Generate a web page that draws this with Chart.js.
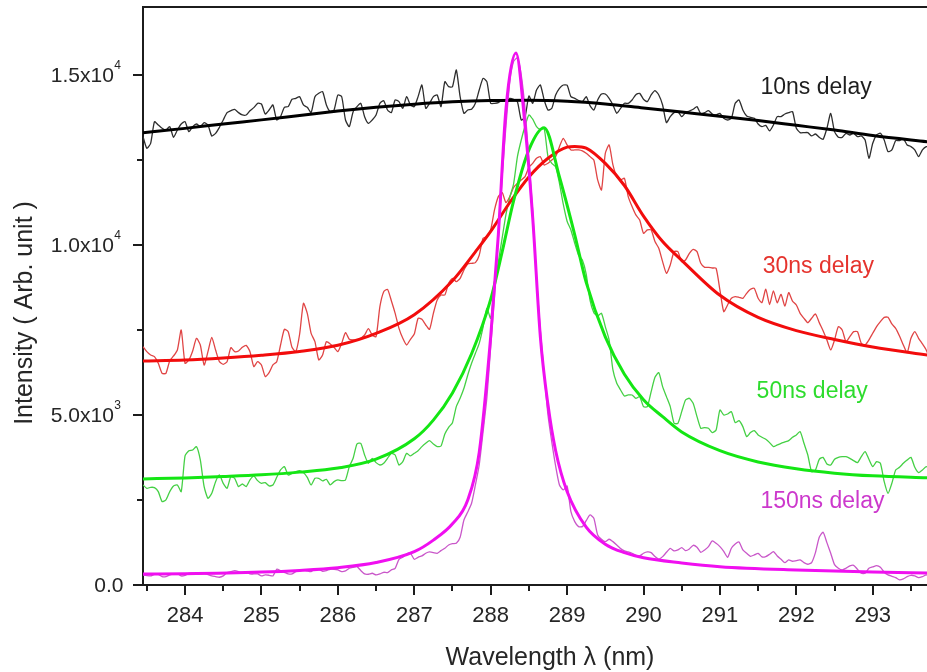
<!DOCTYPE html>
<html>
<head>
<meta charset="utf-8">
<title>Emission line broadening vs delay</title>
<script src="https://cdn.jsdelivr.net/npm/chart.js@4.4.1/dist/chart.umd.min.js"></script>
<style>
	html, body { margin: 0; padding: 0; background: #ffffff; }
	#wrap { width: 927px; height: 672px; }
</style>
</head>
<body>
<div id="wrap"><canvas id="chart" width="927" height="672"></canvas></div>
<script>
// wavelength grid of the measured spectra (nm), 0.05 nm step
const wavelengths = [
	283.45, 283.50, 283.55, 283.60, 283.65, 283.70, 283.75, 283.80, 283.85, 283.90,
	283.95, 284.00, 284.05, 284.10, 284.15, 284.20, 284.25, 284.30, 284.35, 284.40,
	284.45, 284.50, 284.55, 284.60, 284.65, 284.70, 284.75, 284.80, 284.85, 284.90,
	284.95, 285.00, 285.05, 285.10, 285.15, 285.20, 285.25, 285.30, 285.35, 285.40,
	285.45, 285.50, 285.55, 285.60, 285.65, 285.70, 285.75, 285.80, 285.85, 285.90,
	285.95, 286.00, 286.05, 286.10, 286.15, 286.20, 286.25, 286.30, 286.35, 286.40,
	286.45, 286.50, 286.55, 286.60, 286.65, 286.70, 286.75, 286.80, 286.85, 286.90,
	286.95, 287.00, 287.05, 287.10, 287.15, 287.20, 287.25, 287.30, 287.35, 287.40,
	287.45, 287.50, 287.55, 287.60, 287.65, 287.70, 287.75, 287.80, 287.85, 287.90,
	287.95, 288.00, 288.05, 288.10, 288.15, 288.20, 288.25, 288.30, 288.35, 288.40,
	288.45, 288.50, 288.55, 288.60, 288.65, 288.70, 288.75, 288.80, 288.85, 288.90,
	288.95, 289.00, 289.05, 289.10, 289.15, 289.20, 289.25, 289.30, 289.35, 289.40,
	289.45, 289.50, 289.55, 289.60, 289.65, 289.70, 289.75, 289.80, 289.85, 289.90,
	289.95, 290.00, 290.05, 290.10, 290.15, 290.20, 290.25, 290.30, 290.35, 290.40,
	290.45, 290.50, 290.55, 290.60, 290.65, 290.70, 290.75, 290.80, 290.85, 290.90,
	290.95, 291.00, 291.05, 291.10, 291.15, 291.20, 291.25, 291.30, 291.35, 291.40,
	291.45, 291.50, 291.55, 291.60, 291.65, 291.70, 291.75, 291.80, 291.85, 291.90,
	291.95, 292.00, 292.05, 292.10, 292.15, 292.20, 292.25, 292.30, 292.35, 292.40,
	292.45, 292.50, 292.55, 292.60, 292.65, 292.70, 292.75, 292.80, 292.85, 292.90,
	292.95, 293.00, 293.05, 293.10, 293.15, 293.20, 293.25, 293.30, 293.35, 293.40,
	293.45, 293.50, 293.55, 293.60, 293.65, 293.70, 293.75
];

// measured intensities
const spectrum10ns = [
	13187, 12844, 12991, 13628, 13530, 13432, 13383, 13481, 13167, 13383,
	13559, 13628, 13334, 13481, 13559, 13481, 13599, 13530, 13207, 13285,
	13461, 13677, 13893, 13951, 13991, 13893, 13824, 13824, 13951, 14040,
	14167, 14147, 13853, 13971, 14118, 13677, 13775, 14049, 14069, 14285,
	14314, 14363, 14118, 14049, 13893, 14363, 14461, 14510, 14118, 13922,
	13971, 14412, 14363, 13677, 13481, 13922, 14069, 14167, 13775, 13579,
	13677, 13824, 14167, 14245, 13971, 13893, 14265, 14216, 14020, 14363,
	14118, 14069, 14363, 14706, 14020, 14167, 14363, 14412, 14069, 14804,
	14657, 14657, 15147, 14363, 13873, 13971, 13991, 14167, 14559, 14902,
	14804, 14167, 14167, 14187, 14265, 14245, 14314, 14285, 14216, 13677,
	13775, 14383, 14167, 14559, 14706, 14265, 13971, 14020, 14412, 14608,
	14706, 14700, 14363, 14314, 14250, 14216, 14363, 14100, 13971, 14265,
	14441, 14441, 14314, 14118, 13873, 14020, 14167, 14167, 14265, 14422,
	14461, 14285, 14216, 14412, 14539, 14412, 14118, 13599, 13775, 13893,
	13922, 13775, 13893, 13942, 13991, 14069, 13853, 13893, 13951, 13853,
	13824, 13873, 13726, 13677, 13726, 14167, 14265, 13971, 13795, 13755,
	13726, 13559, 13481, 13520, 13354, 13530, 13775, 13775, 13853, 13893,
	13922, 13432, 13305, 13305, 13305, 13207, 13265, 13167, 13109, 13432,
	13873, 13334, 13167, 13167, 13285, 13236, 13285, 13187, 13207, 13089,
	12550, 12991, 13236, 13285, 13089, 12746, 12795, 13069, 13069, 13128,
	12942, 12893, 12795, 12599, 12795, 12893, 12893
];
const spectrum30ns = [
	7010, 6863, 6765, 6716, 6520, 6226, 6226, 6598, 6736, 6912,
	7500, 6520, 6618, 6883, 7255, 7059, 6471, 6863, 7284, 6912,
	6569, 6491, 6569, 6981, 6863, 6883, 6990, 7049, 6863, 6422,
	6569, 6471, 6128, 6246, 6471, 6569, 7059, 7520, 7451, 6990,
	6863, 7382, 8284, 7990, 7402, 7157, 6618, 6765, 7157, 7088,
	6990, 6863, 7108, 7422, 7226, 7206, 7206, 7255, 7353, 7539,
	7353, 7304, 8186, 8627, 8696, 8362, 7990, 7549, 7255, 7059,
	7226, 7382, 7843, 7814, 7647, 7520, 7990, 8382, 8529, 8529,
	8872, 9019, 8921, 9019, 9264, 9440, 9460, 9480, 9700, 10198,
	10247, 10443, 11031, 11423, 11541, 11247, 11423, 11697, 11815, 11913,
	12011, 12285, 12400, 12550, 12599, 12354, 12403, 12501, 12599, 12893,
	13138, 12942, 12795, 12795, 12795, 12766, 12697, 12599, 12501, 11913,
	11619, 12697, 12942, 12354, 12011, 11913, 11962, 11423, 11129, 10884,
	10737, 10345, 10443, 10443, 10100, 9904, 9510, 9167, 9412, 9804,
	9804, 9510, 9559, 9755, 9873, 9804, 9461, 9343, 9343, 9324,
	9314, 8677, 8040, 8236, 8432, 8481, 8461, 8432, 8579, 8697,
	8726, 8432, 8305, 8700, 8250, 8650, 8300, 8550, 8200, 8600,
	8350, 8236, 7991, 7844, 7717, 7844, 7971, 7717, 7481, 7207,
	6913, 7207, 7599, 7501, 7158, 7305, 7452, 7452, 7109, 7060,
	7207, 7403, 7599, 7746, 7873, 7873, 7677, 7550, 7325, 7060,
	6835, 7256, 7452, 7256, 7090, 6913, 6619
];
const spectrum50ns = [
	2942, 2844, 2873, 2864, 2746, 2452, 2501, 2746, 2913, 2942,
	2746, 3795, 3951, 3971, 4069, 3677, 2893, 2550, 2697, 3040,
	3236, 2991, 2844, 3187, 3138, 2893, 2971, 2893, 3089, 3207,
	3069, 2991, 3011, 2913, 2942, 3167, 3383, 3481, 3236, 3285,
	3334, 3363, 3305, 3167, 2942, 3138, 3138, 3060, 3109, 2942,
	3040, 3089, 3069, 3089, 3481, 3726, 4147, 4167, 3824, 3579,
	3726, 3599, 3530, 3579, 3726, 3873, 3824, 3530, 3628, 3873,
	3795, 3873, 3951, 4069, 4167, 4245, 4147, 4069, 4089, 4441,
	4637, 4775, 5246, 5491, 5785, 6177, 6520, 6814, 7108, 7578,
	8137, 7843, 8872, 9500, 10200, 10900, 11400, 11800, 12600, 13089,
	13500, 13824, 13700, 13481, 13400, 13432, 12599, 12403, 12300, 11815,
	11200, 10700, 10443, 10050, 9700, 9558, 9146, 8382, 8010, 7912,
	7990, 7598, 7206, 6324, 5932, 5736, 5560, 5589, 5589, 5491,
	5540, 5246, 5246, 5687, 6108, 6246, 5834, 5540, 5246, 4756,
	4756, 5099, 5442, 5491, 5344, 4952, 4609, 4629, 4609, 4482,
	4560, 5148, 5001, 5030, 5099, 4776, 4834, 4658, 4364, 4482,
	4540, 4413, 4345, 4286, 4188, 4070, 4119, 4168, 4207, 4247,
	4345, 4413, 4511, 4167, 3824, 3334, 3383, 3697, 3755, 3559,
	3530, 3697, 3755, 3775, 3775, 3726, 3657, 3599, 3775, 3922,
	3697, 3481, 3628, 3579, 3040, 2697, 2991, 3383, 3461, 3579,
	3677, 3755, 3461, 3304, 3383, 3481, 3432
];
const spectrum150ns = [
	296, 276, 267, 316, 316, 247, 247, 296, 325, 335,
	267, 286, 345, 345, 325, 335, 345, 306, 267, 247,
	228, 267, 365, 394, 424, 394, 345, 394, 325, 325,
	325, 267, 296, 286, 267, 463, 424, 374, 325, 325,
	394, 424, 443, 414, 394, 472, 463, 404, 424, 463,
	463, 443, 394, 414, 492, 521, 541, 424, 325, 316,
	345, 296, 325, 374, 365, 443, 492, 757, 815, 913,
	933, 757, 815, 855, 933, 972, 952, 933, 1011, 1080,
	1178, 1217, 1227, 1403, 1913, 2148, 2403, 2942, 3530, 4500,
	5500, 7000, 8500, 10200, 12000, 13500, 14800, 15400, 15500, 15000,
	14000, 12500, 11000, 9000, 7500, 6200, 5000, 4200, 3500, 2942,
	2795, 2912, 2158, 1864, 1717, 1717, 1893, 2060, 1962, 1472,
	1345, 1276, 1345, 1276, 1178, 1070, 1002, 972, 933, 874,
	855, 933, 972, 952, 835, 757, 835, 962, 1080, 1002,
	1031, 1100, 1011, 1060, 1168, 1109, 962, 1031, 1129, 1296,
	1227, 1129, 992, 815, 1080, 1207, 1266, 1031, 933, 845,
	884, 933, 825, 835, 904, 982, 855, 757, 659, 737,
	698, 717, 737, 659, 610, 659, 953, 1403, 1551, 1247,
	933, 600, 492, 443, 492, 561, 580, 463, 345, 345,
	492, 531, 570, 521, 374, 296, 257, 218, 149, 178,
	247, 286, 267, 218, 247, 296, 267
];

// fitted profiles, sampled at their own wavelengths
const fit10nsX = [283.45, 284, 284.5, 285, 285.5, 286, 286.5, 287, 287.5, 288, 288.5, 289, 289.5, 290, 290.5, 291, 291.5, 292, 292.5, 293, 293.75];
const fit10nsY = [13300, 13430, 13560, 13680, 13810, 13940, 14050, 14140, 14210, 14250, 14260, 14230, 14150, 14030, 13910, 13790, 13660, 13520, 13380, 13220, 13030];

const fit30nsX = [283.45, 284, 284.5, 285, 285.5, 286, 286.5, 287, 287.5, 287.8, 288, 288.25, 288.5, 288.75, 289, 289.1, 289.25, 289.5, 289.75, 290, 290.25, 290.5, 291, 291.5, 292, 292.5, 293, 293.75];
const fit30nsY = [6590, 6620, 6680, 6760, 6870, 7050, 7400, 7950, 8950, 9800, 10400, 11250, 12000, 12550, 12880, 12900, 12850, 12400, 11750, 10850, 10100, 9550, 8520, 7870, 7480, 7220, 7000, 6750];

const fit50nsX = [283.45, 284, 284.5, 285, 285.5, 286, 286.5, 287, 287.25, 287.5, 287.75, 288, 288.15, 288.3, 288.5, 288.7, 288.9, 289.1, 289.25, 289.5, 289.75, 290, 290.25, 290.5, 291, 291.5, 292, 292.5, 293, 293.75];
const fit50nsY = [3120, 3150, 3190, 3240, 3320, 3440, 3700, 4300, 4850, 5650, 6800, 8400, 9800, 11300, 12800, 13450, 12000, 10300, 8900, 7300, 6200, 5450, 4950, 4500, 3950, 3620, 3420, 3290, 3210, 3150];

const fit150nsX = [283.45, 284, 285, 285.5, 286, 286.5, 287, 287.25, 287.5, 287.7, 287.85, 288, 288.1, 288.2, 288.33, 288.45, 288.55, 288.65, 288.75, 288.85, 289, 289.25, 289.5, 289.75, 290, 290.5, 291, 292, 293, 293.75];
const fit150nsY = [320, 330, 380, 430, 510, 660, 980, 1320, 1800, 2500, 3900, 7300, 10300, 14000, 15650, 13500, 10800, 7300, 5300, 3950, 2750, 1700, 1200, 950, 800, 650, 540, 440, 380, 350];

// axis ticks and labels
const xTickValues = [284, 285, 286, 287, 288, 289, 290, 291, 292, 293];
const xMinorTicks = [283.5, 284.5, 285.5, 286.5, 287.5, 288.5, 289.5, 290.5, 291.5, 292.5, 293.5];
const yTickValues = [0, 5000, 10000, 15000];
const yTickMantissa = ["0.0", "5.0x10", "1.0x10", "1.5x10"];
const yTickExponent = ["", "3", "4", "4"];
const yMinorTicks = [2500, 7500, 12500];

const seriesNames = ["10ns delay", "30ns delay", "50ns delay", "150ns delay"];

const colors = {
	black: { fit: "#000000", raw: "#2e2e2e", text: "#1e1e1e" },
	red: { fit: "#f20c0c", raw: "#e04545", text: "#e5332d" },
	green: { fit: "#14e614", raw: "#45d045", text: "#2edc2e" },
	magenta: { fit: "#f00ff0", raw: "#c957c9", text: "#cc38cc" }
};

// where each delay label sits, in data units
const labelAnchors = [
	{ x: 291.53, y: 14620, color: colors.black.text },
	{ x: 291.56, y: 9350, color: colors.red.text },
	{ x: 291.48, y: 5680, color: colors.green.text },
	{ x: 291.53, y: 2440, color: colors.magenta.text }
];

const FONT = "'Liberation Sans', Arial, Helvetica, sans-serif";

function toPoints(xs, ys) {
	return xs.map((x, i) => ({ x: x, y: ys[i] }));
}

function fitDataset(xs, ys, color) {
	return {
		data: toPoints(xs, ys),
		borderColor: color,
		borderWidth: 3,
		pointRadius: 0,
		cubicInterpolationMode: "monotone",
		fill: false
	};
}

function rawDataset(ys, color) {
	return {
		data: toPoints(wavelengths, ys),
		borderColor: color,
		borderWidth: 1.3,
		pointRadius: 0,
		tension: 0.2,
		fill: false
	};
}

const axisDecor = {
	id: "axisDecor",
	afterDraw(chart) {
		const ctx = chart.ctx;
		const area = chart.chartArea;
		const xs = chart.scales.x;
		const ys = chart.scales.y;
		ctx.save();
		ctx.strokeStyle = "#1c1c1c";
		ctx.lineWidth = 2;

		// frame top
		ctx.beginPath();
		ctx.moveTo(area.left - 1, area.top);
		ctx.lineTo(area.right, area.top);
		ctx.stroke();

		// outward tick marks
		ctx.beginPath();
		xTickValues.forEach(v => {
			const px = Math.round(xs.getPixelForValue(v));
			ctx.moveTo(px, area.bottom);
			ctx.lineTo(px, area.bottom + 10);
		});
		xMinorTicks.forEach(v => {
			const px = Math.round(xs.getPixelForValue(v));
			ctx.moveTo(px, area.bottom);
			ctx.lineTo(px, area.bottom + 6);
		});
		yTickValues.forEach(v => {
			const py = Math.round(ys.getPixelForValue(v));
			ctx.moveTo(area.left, py);
			ctx.lineTo(area.left - 10, py);
		});
		yMinorTicks.forEach(v => {
			const py = Math.round(ys.getPixelForValue(v));
			ctx.moveTo(area.left, py);
			ctx.lineTo(area.left - 6, py);
		});
		ctx.stroke();

		ctx.fillStyle = "#262626";

		// x tick labels
		ctx.font = "22px " + FONT;
		ctx.textAlign = "center";
		ctx.textBaseline = "middle";
		xTickValues.forEach(v => {
			ctx.fillText(String(v), xs.getPixelForValue(v), 616);
		});

		// y tick labels with raised exponent
		yTickValues.forEach((v, i) => {
			const py = ys.getPixelForValue(v);
			const exp = yTickExponent[i];
			ctx.font = "12px " + FONT;
			const expWidth = exp ? ctx.measureText(exp).width : 0;
			const right = exp ? 121 : 124;
			if (exp) {
				ctx.textAlign = "left";
				ctx.textBaseline = "middle";
				ctx.fillText(exp, right - expWidth, py - 9);
			}
			ctx.font = "21px " + FONT;
			ctx.textAlign = "right";
			ctx.textBaseline = "middle";
			ctx.fillText(yTickMantissa[i], right - expWidth - 0.5, py + 1);
		});

		// axis titles
		ctx.font = "25px " + FONT;
		ctx.textAlign = "center";
		ctx.textBaseline = "middle";
		ctx.fillText("Wavelength \u03bb (nm)", 550, 658);
		ctx.save();
		ctx.translate(25, 313);
		ctx.rotate(-Math.PI / 2);
		ctx.fillText("Intensity ( Arb. unit )", 0, 0);
		ctx.restore();

		// delay labels
		ctx.font = "23px " + FONT;
		ctx.textAlign = "left";
		ctx.textBaseline = "middle";
		labelAnchors.forEach((a, i) => {
			ctx.fillStyle = a.color;
			ctx.fillText(seriesNames[i], xs.getPixelForValue(a.x), ys.getPixelForValue(a.y));
		});
		ctx.restore();
	}
};

const config = {
	type: "line",
	data: {
		datasets: [
			fitDataset(fit150nsX, fit150nsY, colors.magenta.fit),
			fitDataset(fit50nsX, fit50nsY, colors.green.fit),
			fitDataset(fit30nsX, fit30nsY, colors.red.fit),
			fitDataset(fit10nsX, fit10nsY, colors.black.fit),
			rawDataset(spectrum150ns, colors.magenta.raw),
			rawDataset(spectrum50ns, colors.green.raw),
			rawDataset(spectrum30ns, colors.red.raw),
			rawDataset(spectrum10ns, colors.black.raw)
		]
	},
	options: {
		responsive: false,
		animation: false,
		devicePixelRatio: 1,
		layout: {
			padding: { left: 143, top: 7, right: 0, bottom: 87 }
		},
		plugins: {
			legend: { display: false },
			tooltip: { enabled: false }
		},
		scales: {
			x: {
				type: "linear",
				min: 283.45,
				max: 293.71,
				grid: { display: false, drawTicks: false },
				border: { display: true, color: "#1c1c1c", width: 2 },
				ticks: { display: false }
			},
			y: {
				type: "linear",
				min: 0,
				max: 17000,
				grid: { display: false, drawTicks: false },
				border: { display: true, color: "#1c1c1c", width: 2 },
				ticks: { display: false }
			}
		}
	},
	plugins: [axisDecor]
};

const chart = new Chart(document.getElementById("chart").getContext("2d"), config);
</script>
</body>
</html>
